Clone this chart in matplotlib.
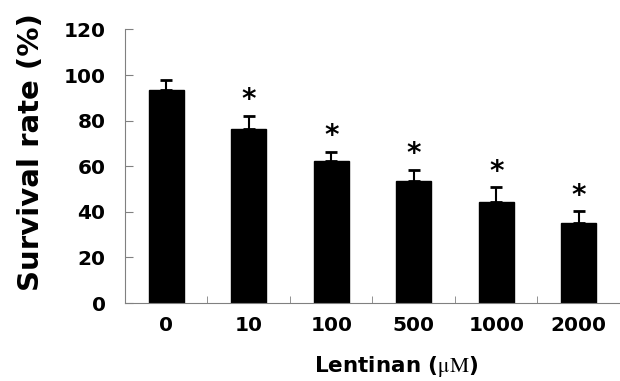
import numpy as np
import matplotlib.pyplot as plt

plt.rcParams['mathtext.fontset'] = 'stix'

doses = ['0', '10', '100', '500', '1000', '2000']
survival = [93.4, 76.3, 62.3, 53.4, 44.3, 35.2]
err = [4.4, 5.8, 3.8, 5.1, 6.4, 5.0]
signif = [False, True, True, True, True, True]

fig = plt.figure(figsize=(6.2, 3.81), dpi=100)
ax = fig.add_axes([0.2016, 0.2047, 0.7984, 0.7181])

x = np.arange(len(doses))
ax.bar(x, survival, width=0.42, color='black', edgecolor='black')
ax.errorbar(x, survival, yerr=[np.zeros(len(err)), err], fmt='none',
            ecolor='black', elinewidth=1.5, capsize=4, capthick=2)

for xi, v, e, s in zip(x, survival, err, signif):
    if s:
        ax.text(xi, v + e + 0.8, '*', ha='center', va='bottom',
                fontsize=20, fontweight='bold')

ax.set_xlim(-0.5, 5.5)
ax.set_ylim(0, 120)
ax.set_yticks(np.arange(0, 121, 20))
ax.set_xticks(x)
ax.set_xticklabels(doses)
ax.set_xticks(np.arange(0.5, 5.6, 1), minor=True)
ax.tick_params(axis='x', which='major', length=0, pad=9)
ax.tick_params(axis='x', which='minor', direction='in', length=5, color='gray')
ax.tick_params(axis='y', direction='in', length=6, color='gray', pad=14)
for lab in ax.get_xticklabels() + ax.get_yticklabels():
    lab.set_fontsize(14.5)
    lab.set_fontweight('heavy')

for sp in ['top', 'right']:
    ax.spines[sp].set_visible(False)
for sp in ['left', 'bottom']:
    ax.spines[sp].set_color('gray')

ax.set_ylabel('Survival rate (%)', fontsize=21, fontweight='heavy')
ax.yaxis.set_label_coords(-0.162, 0.55)
ax.set_xlabel(r'Lentinan ($\mathrm{\mu M}$)', fontsize=15.5, fontweight='bold')
ax.xaxis.set_label_coords(0.547, -0.185)

fig.savefig('out.png', dpi=100)
